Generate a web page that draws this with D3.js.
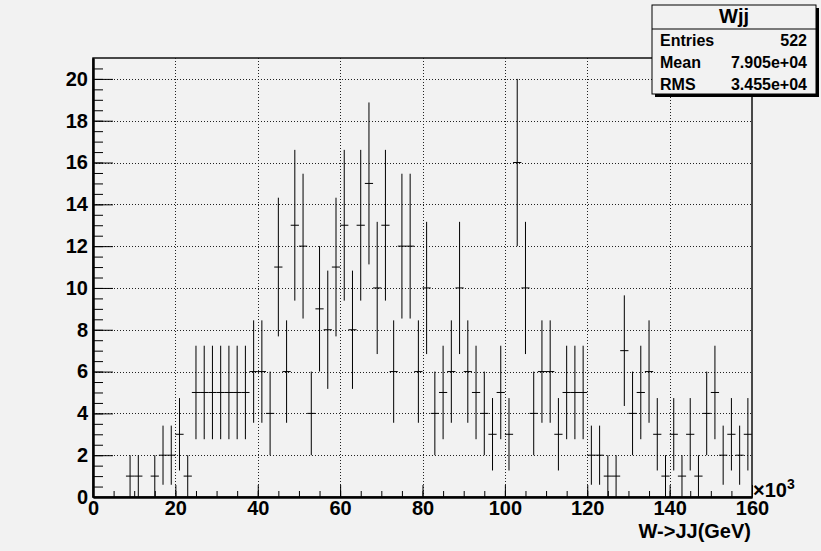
<!DOCTYPE html>
<html>
<head>
<meta charset="utf-8">
<script src="https://cdn.jsdelivr.net/npm/d3@7"></script>
<style>
  body { margin: 0; background: #f2f2f2; }
  svg { display: block; font-family: "Liberation Sans", Arial, Helvetica, sans-serif; font-weight: bold; }
</style>
</head>
<body>
<svg id="chart" width="821" height="551"></svg>
<script>
// histogram Wjj: 80 bins of 2 (x10^3 GeV) from 0 to 160
var binLow = 0, binWidth = 2;
var counts = [
  0, 0, 0, 0, 1, 1, 0, 1, 2, 2,
  3, 1, 5, 5, 5, 5, 5, 5, 5, 6,
  6, 4, 11, 6, 13, 12, 4, 9, 8, 11,
  13, 8, 13, 15, 10, 13, 6, 12, 12, 6,
  10, 4, 5, 6, 10, 6, 5, 4, 3, 5,
  3, 16, 10, 4, 6, 6, 3, 5, 5, 5,
  2, 2, 1, 1, 7, 4, 5, 6, 3, 1,
  3, 1, 3, 1, 4, 5, 2, 3, 2, 3
];
var xTicks = [0, 20, 40, 60, 80, 100, 120, 140, 160];
var yTicks = [0, 2, 4, 6, 8, 10, 12, 14, 16, 18, 20];
var statLabels = ['Entries', 'Mean', 'RMS'];
var statValues = ['522', '7.905e+04', '3.455e+04'];

var svg = d3.select('#chart');

/* Scales */
var x = d3.scaleLinear().domain([0, 160]).range([93, 752]);
var y = d3.scaleLinear().domain([0, 21]).range([497, 58]);

/* Frame */
svg.append('rect')
  .attr('x', x(0)).attr('y', y(21))
  .attr('width', x(160) - x(0)).attr('height', y(0) - y(21))
  .attr('fill', '#f2f2f2');

/* Grid */
var grid = svg.append('g')
  .attr('stroke', '#222')
  .attr('stroke-width', 1)
  .attr('stroke-dasharray', '1,2');

grid.selectAll('line.gx')
  .data(xTicks.slice(1, -1))
  .join('line')
  .attr('x1', function (d) { return Math.round(x(d)) + 0.5; })
  .attr('x2', function (d) { return Math.round(x(d)) + 0.5; })
  .attr('y1', y(0)).attr('y2', y(21));

grid.selectAll('line.gy')
  .data(yTicks.slice(1))
  .join('line')
  .attr('y1', function (d) { return Math.round(y(d)) + 0.5; })
  .attr('y2', function (d) { return Math.round(y(d)) + 0.5; })
  .attr('x1', x(0)).attr('x2', x(160));

/* Error bars */
var bins = counts.map(function (c, i) {
  return { lo: binLow + i * binWidth, hi: binLow + (i + 1) * binWidth, n: c };
}).filter(function (b) { return b.n > 0; });

var marks = svg.append('g').attr('stroke', '#000').attr('stroke-width', 1);

marks.selectAll('line.h')
  .data(bins)
  .join('line')
  .attr('x1', function (d) { return x(d.lo); })
  .attr('x2', function (d) { return x(d.hi); })
  .attr('y1', function (d) { return y(d.n); })
  .attr('y2', function (d) { return y(d.n); });

marks.selectAll('line.v')
  .data(bins)
  .join('line')
  .attr('x1', function (d) { return x((d.lo + d.hi) / 2); })
  .attr('x2', function (d) { return x((d.lo + d.hi) / 2); })
  .attr('y1', function (d) { return y(Math.max(0, d.n - Math.sqrt(d.n))); })
  .attr('y2', function (d) { return y(Math.min(21, d.n + Math.sqrt(d.n))); });

/* Frame border */
svg.append('rect')
  .attr('x', x(0)).attr('y', y(21))
  .attr('width', x(160) - x(0)).attr('height', y(0) - y(21))
  .attr('fill', 'none')
  .attr('stroke', '#111')
  .attr('stroke-width', 1.5);

/* Axes */
var xAxis = d3.axisBottom(x).tickValues(xTicks).tickSize(-12).tickSizeOuter(0).tickPadding(4);
var xMinor = d3.axisBottom(x).tickValues(d3.range(0, 161, 5)).tickSize(-6).tickSizeOuter(0).tickFormat('');
var yAxis = d3.axisLeft(y).tickValues(yTicks).tickSize(-20).tickSizeOuter(0).tickPadding(5);
var yMinor = d3.axisLeft(y).tickValues(d3.range(0, 21, 0.5)).tickSize(-10).tickSizeOuter(0).tickFormat('');

function styleAxis(g) {
  g.select('.domain').attr('stroke', '#000').attr('stroke-width', 2);
  g.selectAll('.tick line').attr('stroke', '#000').attr('stroke-width', 1);
  g.selectAll('.tick text')
    .attr('fill', '#000')
    .style('font-size', '20px')
    .style('font-weight', 'bold')
    .style('font-family', '"Liberation Sans", Arial, sans-serif');
}

svg.append('g').attr('transform', 'translate(0,' + y(0) + ')').call(xMinor).call(styleAxis);
svg.append('g').attr('transform', 'translate(0,' + y(0) + ')').call(xAxis).call(styleAxis);
svg.append('g').attr('transform', 'translate(' + x(0) + ',0)').call(yMinor).call(styleAxis);
svg.append('g').attr('transform', 'translate(' + x(0) + ',0)').call(yAxis).call(styleAxis);

/* Exponent and axis title */
var expo = svg.append('text')
  .attr('x', 753).attr('y', 497)
  .style('font-size', '20px');
expo.append('tspan').text('\u00d710');
expo.append('tspan').attr('dy', -8).style('font-size', '14px').text('3');

svg.append('text')
  .attr('x', 751).attr('y', 538)
  .attr('text-anchor', 'end')
  .style('font-size', '20px')
  .text('W->JJ(GeV)');

/* Stats box */
var bx = 652, by = 5, bw = 164, bh = 89;
svg.append('rect').attr('x', bx + 3).attr('y', by + 3).attr('width', bw).attr('height', bh).attr('fill', '#000');
svg.append('rect').attr('x', bx).attr('y', by).attr('width', bw).attr('height', bh)
  .attr('fill', '#f2f2f2').attr('stroke', '#000').attr('stroke-width', 1);
svg.append('line').attr('x1', bx).attr('x2', bx + bw).attr('y1', 29).attr('y2', 29).attr('stroke', '#000');
svg.append('text').attr('x', bx + bw / 2).attr('y', 23).attr('text-anchor', 'middle')
  .style('font-size', '20px').text('Wjj');

svg.selectAll('text.slabel')
  .data(statLabels)
  .join('text')
  .attr('x', 660)
  .attr('y', function (d, i) { return 45.5 + i * 22; })
  .style('font-size', '16px')
  .text(function (d) { return d; });

svg.selectAll('text.svalue')
  .data(statValues)
  .join('text')
  .attr('x', 807)
  .attr('y', function (d, i) { return 45.5 + i * 22; })
  .attr('text-anchor', 'end')
  .style('font-size', '16px')
  .text(function (d) { return d; });
</script>
</body>
</html>
